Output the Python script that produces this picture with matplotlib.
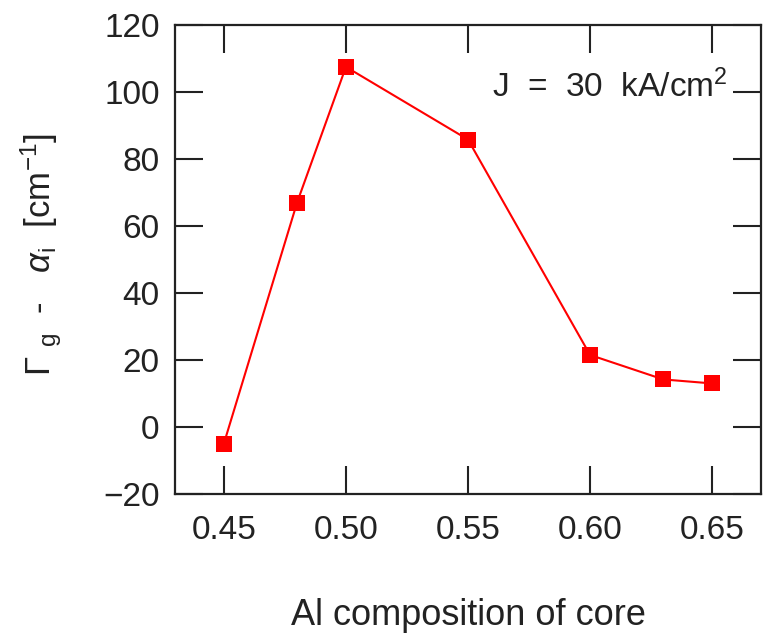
import numpy as np
import matplotlib.pyplot as plt

plt.rcParams['font.family'] = ['Liberation Sans', 'DejaVu Sans']
plt.rcParams['mathtext.fontset'] = 'custom'
plt.rcParams['mathtext.rm'] = 'Liberation Sans'
plt.rcParams['mathtext.it'] = 'Liberation Sans:italic'

# Al composition vs. net gain
al_comp = [0.45, 0.48, 0.50, 0.55, 0.60, 0.63, 0.65]
net_gain = [-5.0, 67.0, 107.5, 85.8, 21.5, 14.2, 13.0]

x_ticks = [0.45, 0.50, 0.55, 0.60, 0.65]
x_tick_labels = ['0.45', '0.50', '0.55', '0.60', '0.65']
y_ticks = [-20, 0, 20, 40, 60, 80, 100, 120]

fig = plt.figure(figsize=(7.64, 6.38), dpi=100)
ax = fig.add_axes([175 / 764, (638 - 494) / 638, (761 - 175) / 764, 469 / 638])

ax.plot(al_comp, net_gain, color='red', lw=1.5, marker='s', markersize=11,
        markeredgewidth=0)

ax.set_xlim(0.43, 0.67)
ax.set_ylim(-20, 120)
ax.set_xticks(x_ticks)
ax.set_xticklabels(x_tick_labels)
ax.set_yticks(y_ticks)

ax.tick_params(direction='in', length=20, width=1.5, labelsize=24,
               top=True, right=True, colors='#222222')
ax.tick_params(axis='x', pad=15)
ax.tick_params(axis='y', pad=11)
for s in ax.spines.values():
    s.set_linewidth(1.6)
    s.set_color('#222222')

ax.set_xlabel('Al composition of core', fontsize=26, color='#222222')
ax.xaxis.set_label_coords(0.5, -0.222)
ax.set_ylabel(r'$\Gamma$ $_{\rm g}$  -   $\alpha_{\rm i}$  [cm$^{-1}$]',
              fontsize=25, color='#222222')
ax.yaxis.set_label_coords(-0.19, 0.51)

ax.text(0.742, 0.868, r'J  =  30  kA/cm$^2$', transform=ax.transAxes, fontsize=24,
        ha='center', va='center', color='#222222',
        bbox=dict(facecolor='white', edgecolor='none', pad=2), zorder=5)

fig.savefig('out.png', dpi=100)
